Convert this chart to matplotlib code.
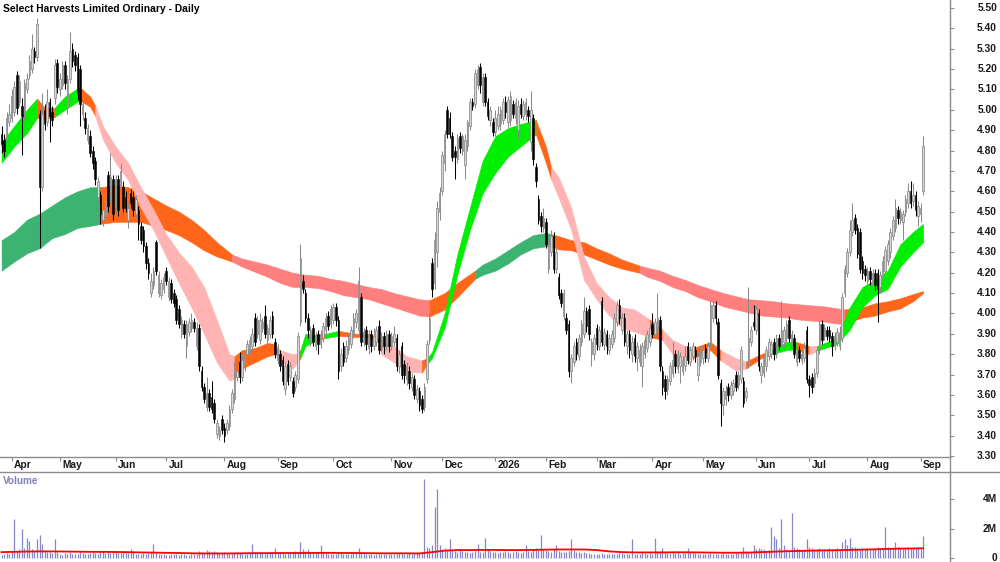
import numpy as np
import pandas as pd
import matplotlib
matplotlib.use("Agg")
import matplotlib.pyplot as plt
from matplotlib import transforms
from matplotlib.lines import Line2D

plt.rcParams['font.family'] = ['Liberation Sans', 'DejaVu Sans']

TITLE = "Select Harvests Limited Ordinary - Daily"
start_date, end_date = "2025-03-26", "2026-09-02"
holidays = ["2025-04-18", "2025-04-21", "2025-04-25", "2025-06-09", "2025-12-25",
            "2025-12-26", "2026-01-01", "2026-01-26", "2026-04-03", "2026-04-06",
            "2026-06-08"]

opens = [
    4.88, 4.85, 4.85, 4.94, 4.96, 4.99, 5.17, 5.04, 5.02, 4.98,
    5.10, 5.17, 5.20, 5.29, 5.26, 4.98, 4.62, 5.00, 4.94, 5.04,
    4.99, 5.06, 5.23, 5.10, 5.12, 5.22, 5.01, 5.15, 5.30, 5.27,
    5.26, 5.20, 4.98, 4.96, 4.85, 4.87, 4.80, 4.75, 4.57, 4.58,
    4.46, 4.48, 4.68, 4.56, 4.66, 4.53, 4.66, 4.62, 4.62, 4.57,
    4.46, 4.59, 4.57, 4.49, 4.51, 4.43, 4.41, 4.33, 4.25, 4.10,
    4.14, 4.35, 4.10, 4.09, 4.12, 4.21, 4.08, 4.15, 4.10, 4.07,
    4.02, 3.90, 3.95, 3.84, 3.91, 3.93, 3.96, 3.84, 3.93, 3.72,
    3.64, 3.54, 3.61, 3.59, 3.56, 3.41, 3.40, 3.48, 3.44, 3.43,
    3.45, 3.53, 3.58, 3.69, 3.76, 3.69, 3.74, 3.80, 3.82, 3.84,
    3.98, 3.90, 3.87, 3.93, 3.99, 3.87, 3.90, 3.99, 3.86, 3.77,
    3.80, 3.77, 3.63, 3.75, 3.69, 3.67, 3.64, 3.68, 3.96, 4.16,
    4.10, 3.98, 3.86, 3.93, 3.84, 3.90, 3.85, 3.88, 3.92, 3.99,
    3.95, 3.97, 4.03, 3.97, 3.74, 3.84, 3.78, 3.82, 3.85, 3.90,
    3.96, 3.92, 4.08, 3.86, 3.92, 3.83, 3.90, 3.84, 3.86, 3.94,
    3.83, 3.89, 3.84, 3.90, 3.84, 3.86, 3.88, 3.74, 3.84, 3.75,
    3.68, 3.72, 3.64, 3.68, 3.58, 3.62, 3.58, 3.54, 3.68, 3.87,
    4.25, 4.15, 4.30, 4.50, 4.60, 4.74, 5.00, 4.96, 4.87, 4.80,
    4.76, 4.87, 4.80, 4.73, 4.82, 4.92, 5.04, 5.03, 5.12, 5.21,
    5.04, 5.16, 5.04, 4.95, 4.94, 4.89, 4.92, 4.93, 4.95, 5.04,
    4.94, 4.95, 5.03, 4.96, 4.90, 5.03, 4.97, 4.98, 5.00, 4.84,
    4.96, 4.72, 4.56, 4.48, 4.42, 4.45, 4.22, 4.30, 4.38, 4.22,
    4.18, 4.10, 3.99, 3.98, 3.95, 3.72, 3.76, 3.86, 3.79, 3.86,
    3.90, 4.01, 4.02, 3.80, 3.80, 3.93, 3.84, 4.06, 3.85, 3.90,
    3.82, 3.85, 3.88, 3.96, 4.04, 3.92, 3.98, 3.84, 3.90, 3.80,
    3.88, 3.78, 3.76, 3.74, 3.80, 3.83, 3.86, 3.95, 3.90, 3.91,
    3.97, 3.72, 3.68, 3.63, 3.67, 3.71, 3.80, 3.73, 3.74, 3.72,
    3.74, 3.84, 3.76, 3.79, 3.82, 3.70, 3.76, 3.78, 3.83, 3.78,
    3.85, 3.98, 4.04, 3.96, 3.66, 3.55, 3.58, 3.64, 3.60, 3.62,
    3.70, 3.65, 3.68, 3.67, 3.59, 3.75, 3.86, 3.96, 3.92, 4.00,
    3.70, 3.71, 3.74, 3.79, 3.80, 3.86, 3.80, 3.88, 3.84, 3.86,
    3.88, 3.97, 3.86, 3.88, 3.76, 3.82, 3.77, 3.78, 3.92, 3.68,
    3.69, 3.66, 3.71, 3.82, 3.95, 3.89, 3.92, 3.92, 3.89, 3.84,
    3.86, 3.84, 3.88, 4.10, 4.20, 4.30, 4.40, 4.47, 4.42, 4.40,
    4.26, 4.22, 4.16, 4.21, 4.14, 4.20, 4.20, 4.13, 4.17, 4.21,
    4.26, 4.30, 4.38, 4.42, 4.51, 4.46, 4.45, 4.50, 4.54, 4.60,
    4.55, 4.58, 4.48, 4.49, 4.60]
highs = [
    4.92, 4.88, 4.99, 5.03, 5.10, 5.14, 5.19, 5.17, 5.06, 5.15,
    5.18, 5.27, 5.37, 5.31, 5.45, 5.00, 5.08, 5.03, 5.10, 5.06,
    5.02, 5.25, 5.25, 5.18, 5.24, 5.24, 5.17, 5.38, 5.33, 5.29,
    5.28, 5.22, 5.05, 4.99, 4.93, 4.90, 4.82, 4.77, 4.67, 4.60,
    4.53, 4.58, 4.70, 4.79, 4.68, 4.68, 4.68, 4.74, 4.65, 4.60,
    4.54, 4.61, 4.60, 4.58, 4.53, 4.45, 4.43, 4.35, 4.27, 4.20,
    4.23, 4.36, 4.21, 4.17, 4.20, 4.23, 4.18, 4.17, 4.12, 4.09,
    4.04, 3.99, 3.97, 3.97, 3.98, 4.00, 3.98, 3.96, 3.95, 3.74,
    3.66, 3.69, 3.63, 3.67, 3.58, 3.48, 3.45, 3.50, 3.46, 3.48,
    3.55, 3.63, 3.76, 3.75, 3.81, 3.79, 3.82, 3.87, 3.89, 3.93,
    4.00, 3.99, 4.00, 3.98, 4.04, 3.95, 3.99, 4.01, 3.88, 3.85,
    3.82, 3.79, 3.76, 3.77, 3.76, 3.69, 3.72, 3.91, 4.34, 4.19,
    4.12, 4.00, 3.94, 3.95, 3.91, 3.92, 3.92, 3.96, 4.00, 4.01,
    4.04, 4.05, 4.05, 3.99, 3.83, 3.86, 3.87, 3.90, 3.94, 4.00,
    4.02, 4.23, 4.10, 3.93, 3.94, 3.92, 3.92, 3.93, 3.94, 3.97,
    3.91, 3.91, 3.92, 3.92, 3.91, 3.94, 3.90, 3.82, 3.86, 3.77,
    3.76, 3.74, 3.71, 3.70, 3.65, 3.64, 3.60, 3.66, 3.87, 4.00,
    4.27, 4.40, 4.55, 4.62, 4.80, 4.90, 5.02, 4.99, 4.89, 4.82,
    4.88, 4.89, 4.88, 4.88, 4.95, 5.06, 5.06, 5.20, 5.22, 5.23,
    5.18, 5.18, 5.06, 5.02, 4.96, 5.00, 5.02, 5.02, 5.06, 5.07,
    5.07, 5.09, 5.05, 5.06, 5.05, 5.06, 5.05, 5.06, 5.02, 5.09,
    4.98, 4.74, 4.58, 4.50, 4.52, 4.47, 4.36, 4.41, 4.40, 4.32,
    4.20, 4.12, 4.12, 4.00, 3.97, 3.80, 3.86, 3.88, 3.90, 3.97,
    4.08, 4.03, 4.04, 3.88, 3.90, 3.95, 3.94, 4.08, 3.93, 3.92,
    3.90, 3.92, 4.00, 4.06, 4.07, 4.00, 4.00, 3.92, 3.92, 3.89,
    3.90, 3.86, 3.85, 3.86, 3.89, 3.92, 3.95, 4.00, 3.98, 4.10,
    3.99, 3.74, 3.70, 3.70, 3.76, 3.86, 3.82, 3.82, 3.81, 3.79,
    3.84, 3.86, 3.84, 3.86, 3.84, 3.81, 3.84, 3.84, 3.85, 3.86,
    4.06, 4.06, 4.06, 3.98, 3.68, 3.64, 3.65, 3.66, 3.67, 3.68,
    3.72, 3.72, 3.84, 3.69, 3.64, 4.13, 3.94, 4.04, 4.04, 4.02,
    3.76, 3.80, 3.84, 3.88, 3.87, 3.88, 3.90, 3.90, 4.06, 3.94,
    3.97, 3.99, 3.92, 3.90, 3.84, 3.84, 3.82, 3.86, 3.94, 3.70,
    3.71, 3.73, 3.84, 3.97, 3.97, 3.95, 3.94, 3.94, 3.91, 3.91,
    3.93, 3.94, 4.10, 4.24, 4.32, 4.46, 4.54, 4.49, 4.44, 4.42,
    4.28, 4.24, 4.23, 4.23, 4.22, 4.22, 4.22, 4.21, 4.28, 4.33,
    4.36, 4.42, 4.48, 4.56, 4.53, 4.52, 4.51, 4.58, 4.64, 4.65,
    4.64, 4.60, 4.55, 4.54, 4.87]
lows = [
    4.79, 4.77, 4.82, 4.92, 4.94, 4.97, 4.98, 5.02, 4.78, 4.95,
    5.08, 5.15, 5.18, 5.23, 5.24, 4.32, 4.60, 4.90, 4.92, 4.84,
    4.92, 5.03, 5.08, 5.07, 5.10, 5.10, 4.98, 5.13, 5.21, 5.19,
    5.05, 4.92, 4.95, 4.88, 4.83, 4.77, 4.71, 4.63, 4.55, 4.44,
    4.43, 4.46, 4.50, 4.54, 4.46, 4.50, 4.48, 4.60, 4.50, 4.50,
    4.42, 4.52, 4.48, 4.47, 4.36, 4.34, 4.30, 4.22, 4.17, 4.08,
    4.12, 4.19, 4.08, 4.07, 4.10, 4.14, 4.06, 4.05, 4.03, 3.95,
    3.93, 3.88, 3.88, 3.78, 3.89, 3.91, 3.91, 3.82, 3.72, 3.62,
    3.56, 3.52, 3.52, 3.51, 3.46, 3.39, 3.38, 3.41, 3.37, 3.41,
    3.43, 3.51, 3.56, 3.67, 3.66, 3.67, 3.72, 3.78, 3.80, 3.82,
    3.84, 3.88, 3.85, 3.91, 3.88, 3.85, 3.88, 3.88, 3.78, 3.75,
    3.72, 3.65, 3.60, 3.65, 3.67, 3.59, 3.62, 3.66, 3.94, 4.10,
    3.96, 3.88, 3.84, 3.84, 3.82, 3.80, 3.83, 3.86, 3.90, 3.92,
    3.93, 3.95, 3.94, 3.68, 3.72, 3.74, 3.76, 3.80, 3.83, 3.88,
    3.93, 3.90, 3.84, 3.84, 3.82, 3.80, 3.81, 3.82, 3.84, 3.80,
    3.81, 3.80, 3.82, 3.81, 3.82, 3.84, 3.72, 3.71, 3.68, 3.66,
    3.65, 3.63, 3.62, 3.58, 3.56, 3.52, 3.51, 3.52, 3.66, 3.85,
    4.08, 4.12, 4.23, 4.46, 4.58, 4.70, 4.86, 4.86, 4.75, 4.66,
    4.74, 4.79, 4.78, 4.66, 4.80, 4.90, 5.00, 5.01, 5.10, 5.08,
    5.02, 5.02, 4.95, 4.92, 4.87, 4.87, 4.90, 4.90, 4.93, 4.96,
    4.91, 4.92, 4.96, 4.93, 4.86, 4.96, 4.95, 4.95, 4.94, 4.80,
    4.73, 4.62, 4.44, 4.40, 4.40, 4.32, 4.20, 4.28, 4.20, 4.20,
    4.07, 4.03, 3.97, 3.90, 3.69, 3.66, 3.74, 3.77, 3.77, 3.84,
    3.88, 3.91, 3.87, 3.74, 3.77, 3.82, 3.82, 3.84, 3.82, 3.80,
    3.80, 3.83, 3.86, 3.94, 3.95, 3.90, 3.84, 3.80, 3.78, 3.76,
    3.76, 3.72, 3.74, 3.64, 3.78, 3.81, 3.84, 3.88, 3.88, 3.89,
    3.72, 3.60, 3.58, 3.60, 3.65, 3.69, 3.71, 3.71, 3.66, 3.70,
    3.72, 3.75, 3.74, 3.77, 3.76, 3.67, 3.74, 3.75, 3.76, 3.76,
    3.83, 3.96, 3.95, 3.68, 3.45, 3.50, 3.55, 3.57, 3.58, 3.60,
    3.62, 3.63, 3.66, 3.54, 3.57, 3.73, 3.84, 3.92, 3.90, 3.72,
    3.66, 3.69, 3.72, 3.77, 3.78, 3.77, 3.78, 3.82, 3.82, 3.84,
    3.86, 3.86, 3.84, 3.78, 3.74, 3.76, 3.75, 3.76, 3.66, 3.59,
    3.61, 3.64, 3.69, 3.80, 3.85, 3.87, 3.87, 3.86, 3.79, 3.82,
    3.84, 3.82, 3.86, 4.08, 4.18, 4.28, 4.38, 4.39, 4.27, 4.20,
    4.17, 4.16, 4.14, 4.14, 4.12, 4.11, 3.96, 4.10, 4.15, 4.19,
    4.24, 4.27, 4.36, 4.40, 4.44, 4.44, 4.36, 4.48, 4.52, 4.52,
    4.53, 4.48, 4.43, 4.45, 4.58]
closes = [
    4.83, 4.80, 4.96, 4.98, 5.07, 5.11, 5.01, 5.14, 4.97, 5.13,
    5.15, 5.24, 5.30, 5.26, 5.42, 4.62, 4.98, 4.93, 5.04, 4.97,
    4.95, 5.22, 5.11, 5.15, 5.22, 5.13, 5.15, 5.29, 5.24, 5.22,
    5.08, 5.03, 5.03, 4.91, 4.91, 4.79, 4.74, 4.66, 4.65, 4.49,
    4.51, 4.56, 4.53, 4.67, 4.49, 4.66, 4.51, 4.70, 4.52, 4.52,
    4.52, 4.54, 4.51, 4.56, 4.44, 4.36, 4.33, 4.25, 4.20, 4.16,
    4.21, 4.21, 4.19, 4.15, 4.18, 4.16, 4.16, 4.07, 4.05, 3.97,
    3.95, 3.97, 3.90, 3.95, 3.96, 3.97, 3.93, 3.93, 3.74, 3.64,
    3.58, 3.61, 3.54, 3.53, 3.48, 3.46, 3.43, 3.43, 3.40, 3.46,
    3.53, 3.61, 3.74, 3.72, 3.69, 3.77, 3.80, 3.85, 3.87, 3.90,
    3.86, 3.97, 3.97, 3.96, 3.90, 3.93, 3.97, 3.90, 3.80, 3.83,
    3.74, 3.67, 3.74, 3.67, 3.74, 3.61, 3.70, 3.89, 4.27, 4.12,
    3.98, 3.92, 3.92, 3.86, 3.89, 3.85, 3.90, 3.94, 3.98, 3.94,
    4.02, 4.03, 3.97, 3.72, 3.80, 3.76, 3.84, 3.88, 3.92, 3.98,
    4.00, 4.16, 3.86, 3.91, 3.85, 3.90, 3.84, 3.89, 3.92, 3.82,
    3.89, 3.84, 3.90, 3.84, 3.89, 3.90, 3.74, 3.80, 3.70, 3.70,
    3.74, 3.66, 3.69, 3.60, 3.63, 3.55, 3.53, 3.64, 3.85, 3.98,
    4.12, 4.36, 4.52, 4.59, 4.78, 4.88, 4.88, 4.88, 4.77, 4.77,
    4.86, 4.81, 4.87, 4.85, 4.94, 5.04, 5.02, 5.18, 5.20, 5.12,
    5.16, 5.04, 4.97, 5.00, 4.89, 4.96, 4.98, 5.00, 5.04, 4.99,
    5.05, 5.07, 4.98, 5.04, 5.02, 4.98, 5.03, 5.04, 4.97, 5.00,
    4.76, 4.65, 4.46, 4.43, 4.47, 4.34, 4.34, 4.38, 4.22, 4.30,
    4.09, 4.05, 4.10, 3.92, 3.72, 3.78, 3.84, 3.80, 3.88, 3.95,
    4.01, 3.94, 3.90, 3.86, 3.88, 3.85, 3.92, 3.86, 3.91, 3.84,
    3.88, 3.90, 3.98, 4.04, 3.98, 3.98, 3.86, 3.90, 3.82, 3.86,
    3.79, 3.84, 3.82, 3.84, 3.87, 3.90, 3.93, 3.90, 3.96, 3.98,
    3.74, 3.64, 3.62, 3.68, 3.74, 3.77, 3.74, 3.80, 3.79, 3.77,
    3.79, 3.77, 3.82, 3.84, 3.79, 3.79, 3.82, 3.82, 3.78, 3.84,
    4.04, 4.04, 3.98, 3.70, 3.56, 3.62, 3.62, 3.60, 3.65, 3.66,
    3.64, 3.70, 3.82, 3.56, 3.62, 3.88, 3.92, 3.94, 4.02, 3.74,
    3.74, 3.78, 3.82, 3.86, 3.85, 3.80, 3.88, 3.84, 3.92, 3.92,
    3.95, 3.88, 3.90, 3.80, 3.82, 3.78, 3.80, 3.83, 3.68, 3.65,
    3.64, 3.71, 3.82, 3.95, 3.87, 3.93, 3.89, 3.88, 3.84, 3.89,
    3.91, 3.90, 4.08, 4.22, 4.30, 4.41, 4.46, 4.41, 4.29, 4.22,
    4.20, 4.19, 4.21, 4.17, 4.20, 4.14, 4.12, 4.19, 4.26, 4.31,
    4.34, 4.40, 4.46, 4.52, 4.47, 4.50, 4.49, 4.56, 4.60, 4.54,
    4.58, 4.51, 4.53, 4.52, 4.82]

# daily volume, thousands of shares
volumes_k = [
    250, 300, 350, 280, 420, 2700, 500, 650, 2000, 700, 1400, 1200, 600, 500, 1300, 1600, 1000, 550, 450, 400, 380, 1300, 420,
    300, 250, 350, 280, 400, 320, 260, 300, 420, 350, 300, 280, 330, 450, 380, 300, 520, 480, 350, 420, 380, 500,
    420, 380, 350, 500, 450, 380, 600, 420, 300, 280, 320, 380, 300, 350, 420, 1000, 400, 320, 280, 300,
    250, 220, 280, 300, 260, 240, 310, 280, 250, 230, 300, 270, 320, 500, 420, 380, 550, 480, 400, 520, 450, 380, 350,
    400, 350, 320, 300, 380, 420, 350, 300, 280, 320, 400, 1000, 450, 380, 420, 350, 300, 380, 420, 450, 700,
    380, 350, 420, 300, 380, 350, 420, 500, 450, 1100, 600, 500, 650, 450, 400, 380, 420, 900, 380, 350, 300, 280,
    300, 280, 420, 380, 320, 300, 280, 260, 350, 380, 700, 450, 380, 320, 300, 280, 250, 320, 300, 280, 260, 300, 320,
    300, 280, 260, 350, 380, 320, 300, 350, 320, 380, 420, 400, 450, 5400, 800, 700, 900, 3500, 4700, 900,
    650, 700, 600, 1300, 550, 500, 450, 600, 500, 450, 400, 380, 420, 500, 1000, 450, 400, 1400, 600, 500, 450,
    420, 380, 400, 450, 500, 420, 380, 450, 500, 400, 380, 420, 900, 500, 450, 600, 700, 550, 1600, 600,
    550, 500, 450, 600, 900, 500, 450, 420, 400, 480, 1300, 550, 450, 400, 350, 420, 380, 350, 320, 300,
    300, 280, 350, 320, 300, 280, 260, 300, 320, 350, 380, 300, 280, 300, 1300, 320, 300, 280, 400, 350, 300, 380,
    320, 1400, 500, 520, 700, 450, 380, 350, 420, 380, 400, 300, 350, 380, 700, 400, 350, 380, 320, 300,
    300, 320, 280, 350, 300, 280, 320, 300, 350, 280, 260, 300, 320, 350, 380, 420, 800, 500, 450, 400, 900,
    600, 700, 650, 600, 500, 550, 2100, 1500, 1300, 700, 2700, 900, 600, 500, 3100, 800, 700, 600, 550, 600, 1300,
    800, 700, 650, 600, 700, 650, 600, 550, 700, 650, 600, 700, 650, 1100, 1300, 900, 1400, 800, 750, 700, 650, 700, 650,
    700, 650, 600, 700, 800, 650, 700, 2100, 800, 700, 650, 1100, 750, 700, 650, 700, 750, 700, 650, 700, 750,
    600, 1500]

# volume moving average (red line), read every 5 bars, thousands
vma_bars = list(range(0, 361, 5)) + [364]
vma_k = [420, 440, 460, 470, 470, 460, 450, 440, 440, 430,
         420, 400, 390, 370, 360, 340, 330, 330, 330, 340,
         350, 350, 360, 360, 360, 370, 370, 360, 360, 350,
         340, 340, 340, 330, 420, 520, 560, 560, 570, 570,
         560, 560, 570, 590, 600, 600, 600, 560, 470, 420,
         400, 400, 400, 410, 410, 400, 390, 380, 380, 390,
         420, 450, 480, 500, 520, 540, 550, 570, 590, 610,
         640, 660, 670, 680]

# short-term moving-average ribbon (edges)
short_bars = [0, 5, 10, 14, 17, 21, 25, 30, 31, 35,
              37, 40, 45, 50, 55, 60, 65, 70, 75, 80,
              85, 90, 92, 95, 100, 105, 108, 110, 115, 117,
              118, 120, 124, 128, 133, 140, 145, 149, 150, 155,
              160, 166, 168, 170, 175, 180, 185, 190, 195, 200,
              205, 211, 215, 217, 220, 225, 230, 235, 240, 245,
              250, 256, 261, 265, 270, 273, 280, 284, 290, 294,
              300, 304, 310, 314, 319, 322, 325, 330, 335, 340,
              345, 350, 355, 360, 364]
short_hi = [4.84, 4.92, 5.00, 5.055, 5.01, 5.01, 5.065, 5.105, 5.11, 5.065,
            5.02, 4.92, 4.82, 4.74, 4.62, 4.51, 4.39, 4.30, 4.23, 4.13,
            3.97, 3.80, 3.79, 3.82, 3.83, 3.855, 3.85, 3.82, 3.80, 3.805,
            3.82, 3.90, 3.895, 3.90, 3.915, 3.90, 3.90, 3.88, 3.87, 3.84,
            3.79, 3.77, 3.78, 3.81, 4.00, 4.29, 4.52, 4.75, 4.87, 4.91,
            4.93, 4.95, 4.82, 4.72, 4.67, 4.52, 4.28, 4.15, 4.08, 4.03,
            4.02, 3.97, 3.92, 3.87, 3.84, 3.83, 3.86, 3.82, 3.78, 3.765,
            3.80, 3.82, 3.86, 3.86, 3.84, 3.84, 3.855, 3.88, 4.03, 4.13,
            4.165, 4.21, 4.34, 4.40, 4.44]
short_lo = [4.74, 4.82, 4.885, 4.96, 4.955, 4.965, 5.00, 5.04, 5.045, 5.015,
            4.97, 4.855, 4.74, 4.655, 4.52, 4.41, 4.28, 4.15, 4.03, 3.90,
            3.76, 3.67, 3.68, 3.73, 3.76, 3.79, 3.80, 3.77, 3.73, 3.76,
            3.78, 3.84, 3.865, 3.88, 3.89, 3.885, 3.885, 3.86, 3.80, 3.76,
            3.715, 3.71, 3.75, 3.78, 3.93, 4.19, 4.41, 4.59, 4.69, 4.77,
            4.82, 4.88, 4.74, 4.66, 4.57, 4.41, 4.165, 4.07, 3.99, 3.93,
            3.91, 3.885, 3.87, 3.80, 3.77, 3.78, 3.82, 3.77, 3.72, 3.73,
            3.78, 3.80, 3.82, 3.825, 3.80, 3.815, 3.83, 3.85, 3.92, 4.03,
            4.09, 4.12, 4.23, 4.30, 4.35]
short_col = ("gggoogggoo" "pppppppppp" "ppoooopppo" "ggogoooppp" "pogggggggg"
             "gooppppppp" "popppooppo" "oggopggggg" "ggggg")

# long-term moving-average ribbon
long_bars = [0, 5, 10, 15, 20, 25, 30, 35,
             39, 45, 50, 55, 60, 65, 70, 75, 80, 85,
             91, 95, 100, 105, 110, 115, 120, 125, 130, 135, 140, 145, 150, 155, 160, 165,
             169, 175, 180,
             187, 190, 195, 200, 205, 210, 215,
             217, 220, 225, 230, 235, 240, 245,
             252, 255, 260, 265, 270, 275, 280, 285, 290, 295, 300, 305, 310, 315, 320, 325, 330,
             333, 340, 345, 350, 355, 360, 364]
long_hi = [4.36, 4.40, 4.46, 4.49, 4.53, 4.57, 4.60, 4.62,
           4.62, 4.63, 4.62, 4.60, 4.565, 4.53, 4.50, 4.46, 4.41, 4.35,
           4.29, 4.27, 4.255, 4.24, 4.22, 4.20, 4.19, 4.185, 4.17, 4.16, 4.145, 4.13, 4.12, 4.10, 4.085, 4.07,
           4.065, 4.10, 4.15,
           4.21, 4.24, 4.27, 4.31, 4.35, 4.385, 4.395,
           4.39, 4.38, 4.36, 4.35, 4.32, 4.295, 4.265,
           4.235, 4.225, 4.21, 4.185, 4.165, 4.14, 4.12, 4.10, 4.085, 4.07, 4.065, 4.06, 4.05, 4.045, 4.04, 4.035, 4.025,
           4.02, 4.03, 4.05, 4.06, 4.075, 4.095, 4.11]
long_lo = [4.21, 4.255, 4.295, 4.32, 4.37, 4.39, 4.42, 4.43,
           4.44, 4.45, 4.45, 4.45, 4.43, 4.41, 4.385, 4.35, 4.31, 4.28,
           4.255, 4.23, 4.205, 4.18, 4.15, 4.13, 4.13, 4.125, 4.11, 4.09, 4.08, 4.07, 4.05, 4.03, 4.01, 3.99,
           3.985, 4.02, 4.08,
           4.17, 4.19, 4.21, 4.245, 4.29, 4.32, 4.33,
           4.33, 4.315, 4.31, 4.29, 4.265, 4.24, 4.22,
           4.20, 4.18, 4.16, 4.13, 4.11, 4.08, 4.06, 4.035, 4.02, 4.005, 3.99, 3.985, 3.98, 3.97, 3.965, 3.96, 3.95,
           3.95, 3.98, 3.99, 4.01, 4.025, 4.06, 4.10]
long_col = ("GGGGGGGG" "oooooooooo" "ssssssssssssssss" "ooo" "GGGGGGG"
            "ooooooo" "sssssssssssssssss" "ooooooo")

price_ticks = [3.30, 3.40, 3.50, 3.60, 3.70, 3.80, 3.90, 4.00, 4.10, 4.20, 4.30, 4.40,
               4.50, 4.60, 4.70, 4.80, 4.90, 5.00, 5.10, 5.20, 5.30, 5.40, 5.50]
vol_ticks = [0, 2, 4]
vol_tick_labels = ["0", "2M", "4M"]

# ---------------------------------------------------------------- drawing
n = len(closes)
dates = pd.bdate_range(start_date, end_date)
dates = dates[~dates.isin(pd.to_datetime(holidays))][:n]
x = np.arange(n)
o, h, l, c = (np.asarray(a, float) for a in (opens, highs, lows, closes))
vol = np.asarray(volumes_k, float) / 1000.0

W, H = 1000, 562
PR_BOT, VOL_TOP, RIGHT = 457, 472, 950
GRID = '#8c8c8c'
TXT = '#1a1a1a'
FS = 7.4

fig = plt.figure(figsize=(10, 5.62), dpi=100)
fig.patch.set_facecolor('white')
axp = fig.add_axes([0, 1 - PR_BOT / H, RIGHT / W, PR_BOT / H])
axv = fig.add_axes([0, 0, RIGHT / W, (H - VOL_TOP) / H])

XL = (-0.62, 374.6)

SHORT_C = {'g': '#00ee00', 'o': '#ff661a', 'p': '#ffb3b3'}
LONG_C = {'G': '#3cb371', 'o': '#ff661a', 's': '#ff7f7f'}


def draw_ribbon(ax, bars, hi, lo, cols, cmap, z):
    bars = np.asarray(bars, float)
    hi = np.asarray(hi, float)
    lo = np.asarray(lo, float)
    m = len(bars)
    i = 0
    while i < m - 1:
        j = i
        while j + 1 < m - 1 and cols[j + 1] == cols[i]:
            j += 1
        sl = slice(i, j + 2)
        col = cmap[cols[i]]
        ax.fill_between(bars[sl], lo[sl], hi[sl], facecolor=col, edgecolor=col,
                        lw=0.4, zorder=z)
        i = j + 1


draw_ribbon(axp, long_bars, long_hi, long_lo, long_col, LONG_C, 1)
draw_ribbon(axp, short_bars, short_hi, short_lo, short_col, SHORT_C, 2)

up = c >= o
body_lo = np.minimum(o, c)
body_h = np.maximum(np.abs(c - o), 0.004)
axp.vlines(x[up], l[up], h[up], color='#8a8a8a', lw=0.75, zorder=3)
axp.vlines(x[~up], l[~up], h[~up], color='black', lw=0.75, zorder=3)
axp.bar(x[up], body_h[up], 0.62, body_lo[up], color='#d6d6d6',
        edgecolor='#8a8a8a', lw=0.55, zorder=4)
axp.bar(x[~up], body_h[~up], 0.62, body_lo[~up], color='black',
        edgecolor='black', lw=0.4, zorder=4)

axp.set_xlim(*XL)
axp.set_ylim(3.2954, 5.539)
for s in ('top', 'left'):
    axp.spines[s].set_visible(False)
for s in ('bottom', 'right'):
    axp.spines[s].set_color(GRID)
    axp.spines[s].set_linewidth(1.0)
axp.yaxis.tick_right()
axp.set_yticks(price_ticks)
axp.tick_params(axis='y', direction='out', length=3, color=GRID,
                labelright=False, labelleft=False)

month_idx = [i for i in range(1, n) if dates[i].month != dates[i - 1].month]
axp.set_xticks(month_idx)
axp.tick_params(axis='x', direction='out', length=3, color=GRID, labelbottom=False)

# price labels on the right
tr_p = transforms.blended_transform_factory(fig.transFigure, axp.transData)
for p in price_ticks:
    axp.text(997 / W, p, f"{p:.2f}", transform=tr_p, ha='right', va='center',
             fontsize=FS, fontweight='bold', color=TXT)

# month labels
tr_m = transforms.blended_transform_factory(axp.transData, fig.transFigure)
for i in month_idx:
    d = dates[i]
    lab = str(d.year) if d.month == 1 else d.strftime('%b')
    axp.text(i + 0.9, 1 - 465 / H, lab, transform=tr_m, ha='left', va='center',
             fontsize=FS, fontweight='bold', color=TXT, clip_on=False)

# volume panel
axv.vlines(x, 0, vol, color='#8686cc', lw=0.9, zorder=2)
axv.plot(vma_bars, np.asarray(vma_k) / 1000.0, color='#ff0000', lw=1.3, zorder=3)
axv.set_xlim(*XL)
axv.set_ylim(-(H - 558.3) / 14.7, (558.3 - VOL_TOP) / 14.7)
for s in ('left', 'bottom'):
    axv.spines[s].set_visible(False)
for s in ('top', 'right'):
    axv.spines[s].set_color(GRID)
    axv.spines[s].set_linewidth(1.0)
axv.set_xticks([])
axv.yaxis.tick_right()
axv.set_yticks(vol_ticks)
axv.tick_params(axis='y', direction='out', length=3, color=GRID,
                labelright=False, labelleft=False)
tr_v = transforms.blended_transform_factory(fig.transFigure, axv.transData)
for v, lab in zip(vol_ticks, vol_tick_labels):
    axv.text(997 / W, v, lab, transform=tr_v, ha='right', va='center',
             fontsize=FS, fontweight='bold', color=TXT)

# frame lines between panels
fig.add_artist(Line2D([RIGHT / W, RIGHT / W], [1 - VOL_TOP / H, 1 - PR_BOT / H],
                      transform=fig.transFigure, color=GRID, lw=1.0))
fig.add_artist(Line2D([RIGHT / W, 1.0], [1 - VOL_TOP / H, 1 - VOL_TOP / H],
                      transform=fig.transFigure, color=GRID, lw=1.0))

fig.text(3 / W, 1 - 9 / H, TITLE, ha='left', va='center', fontsize=FS,
         fontweight='bold', color='black')
fig.text(3 / W, 1 - 481 / H, "Volume", ha='left', va='center', fontsize=7.2,
         fontweight='bold', color='#8080c0')

fig.savefig("out.png", dpi=100, facecolor='white')
